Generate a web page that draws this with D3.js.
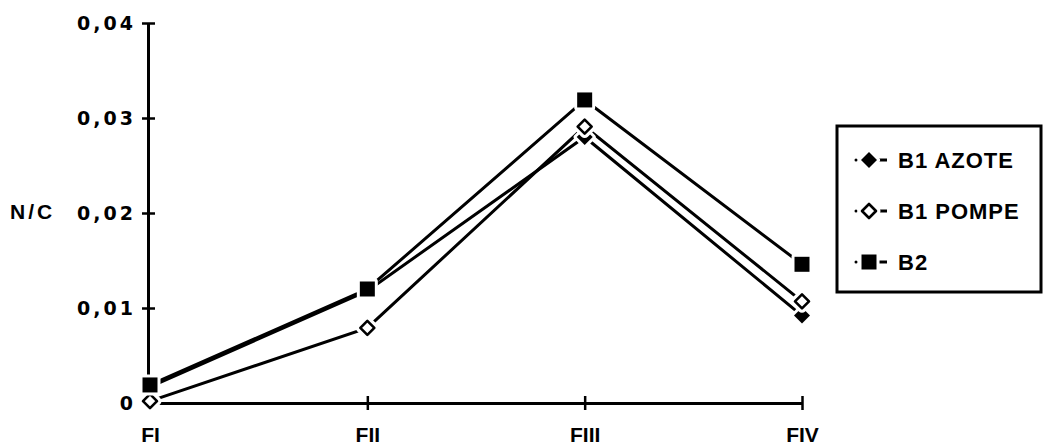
<!DOCTYPE html>
<html lang="fr">
<head>
    <meta charset="UTF-8">
    <title>N/C</title>
    <style>
        html,body{
            margin:0;
            background:#fff;
            overflow:hidden;
        }
        svg{ display:block; }
        text{
            font-family:"Liberation Sans", Arial, sans-serif;
            font-weight:bold;
            fill:#000;
        }
    </style>
</head>
<body>
    <svg id="svg" width="1047" height="447"></svg>
    <script src="https://d3js.org/d3.v7.min.js"></script>
    <script>
        // data
        const fractions = ['FI', 'FII', 'FIII', 'FIV'];
        const b1Azote = [0.0017, 0.0118, 0.0280, 0.0092];
        const b1Pompe = [0.0002, 0.0079, 0.0291, 0.0107];
        const b2 = [0.0019, 0.0120, 0.0319, 0.0146];
        const yTicks = [0, 0.01, 0.02, 0.03, 0.04];
        const yTickLabels = ['0', '0,01', '0,02', '0,03', '0,04'];

        const series = [
            { name: 'B1 AZOTE', values: b1Azote, marker: 'diamond' },
            { name: 'B1 POMPE', values: b1Pompe, marker: 'openDiamond' },
            { name: 'B2', values: b2, marker: 'square' }
        ];

        const svg = d3.select('#svg');

        const xScale = d3.scalePoint()
            .domain(fractions)
            .range([150, 802]);

        const yScale = d3.scaleLinear()
            .domain([0, 0.04])
            .range([403, 23]);

        // marker shapes
        const diamond = r => `M0,${-r}L${r},0L0,${r}L${-r},0Z`;
        const square = r => `M${-r},${-r}H${r}V${r}H${-r}Z`;
        const markerPath = m => m === 'square' ? square(7.5) : diamond(m === 'diamond' ? 8 : 7);

        const drawMarker = (g, m, x, y) => {
            g.append('path')
                .attr('transform', `translate(${x},${y})`)
                .attr('d', markerPath(m))
                .attr('fill', '#fff')
                .attr('stroke', '#fff')
                .attr('stroke-width', m === 'openDiamond' ? 9 : 6)
                .attr('stroke-linejoin', 'round');
            g.append('path')
                .attr('transform', `translate(${x},${y})`)
                .attr('d', markerPath(m))
                .attr('fill', m === 'openDiamond' ? '#fff' : '#000')
                .attr('stroke', m === 'openDiamond' ? '#000' : 'none')
                .attr('stroke-width', 2.6)
                .attr('stroke-linejoin', 'round');
        };

        // axes
        const yAxis = d3.axisLeft(yScale)
            .tickValues(yTicks)
            .tickSize(0)
            .tickFormat((d, i) => yTickLabels[i]);
        const yg = svg.append('g')
            .attr('transform', 'translate(148,0)')
            .call(yAxis);
        yg.select('.domain').attr('stroke', '#000').attr('stroke-width', 3);
        yg.selectAll('.tick line').remove();
        yg.selectAll('.tick').append('line')
            .attr('x1', -6).attr('x2', 7)
            .attr('stroke', '#000').attr('stroke-width', 2.5);
        yg.selectAll('.tick text')
            .attr('x', -12)
            .attr('dy', '0.36em')
            .style('font-family', '"DejaVu Sans", sans-serif')
            .style('font-size', '19px')
            .style('letter-spacing', '3px')
            .attr('fill', '#000');

        const xAxis = d3.axisBottom(xScale).tickSize(0);
        const xg = svg.append('g')
            .attr('transform', 'translate(0,403)')
            .call(xAxis);
        xg.select('.domain').attr('stroke', '#000').attr('stroke-width', 3);
        xg.selectAll('.tick line').remove();
        xg.selectAll('.tick').filter(d => d !== 'FI').append('line')
            .attr('y1', -7).attr('y2', 7)
            .attr('stroke', '#000').attr('stroke-width', 2.5);
        xg.selectAll('.tick text')
            .attr('y', 39)
            .attr('dy', 0)
            .style('font-size', '21px')
            .attr('fill', '#000');

        svg.append('text')
            .attr('x', 10)
            .attr('y', 211)
            .attr('dy', '0.36em')
            .style('font-size', '21px')
            .style('letter-spacing', '3px')
            .text('N/C');

        // lines
        const line = d3.line()
            .x((d, i) => xScale(fractions[i]))
            .y(d => yScale(d));

        const plot = svg.append('g');
        series.forEach(s => {
            plot.append('path')
                .datum(s.values)
                .attr('d', line)
                .attr('fill', 'none')
                .attr('stroke', '#000')
                .attr('stroke-width', 3);
        });
        series.forEach(s => {
            s.values.forEach((v, i) => drawMarker(plot, s.marker, xScale(fractions[i]), yScale(v)));
        });

        // legend
        const legend = svg.append('g');
        legend.append('rect')
            .attr('x', 837).attr('y', 126)
            .attr('width', 204).attr('height', 166)
            .attr('fill', '#fff')
            .attr('stroke', '#000')
            .attr('stroke-width', 3);
        const rowY = d3.scalePoint().domain(series.map(s => s.name)).range([160, 262]);
        series.forEach(s => {
            const y = rowY(s.name);
            legend.append('circle')
                .attr('cx', 856).attr('cy', y).attr('r', 1.5)
                .attr('fill', '#000');
            legend.append('line')
                .attr('x1', 879).attr('x2', 887)
                .attr('y1', y).attr('y2', y)
                .attr('stroke', '#000').attr('stroke-width', 3);
            drawMarker(legend, s.marker, 869, y);
            legend.append('text')
                .attr('x', 898)
                .attr('y', y)
                .attr('dy', '0.36em')
                .style('font-size', '22px')
                .style('letter-spacing', '1px')
                .text(s.name);
        });
    </script>
</body>
</html>
